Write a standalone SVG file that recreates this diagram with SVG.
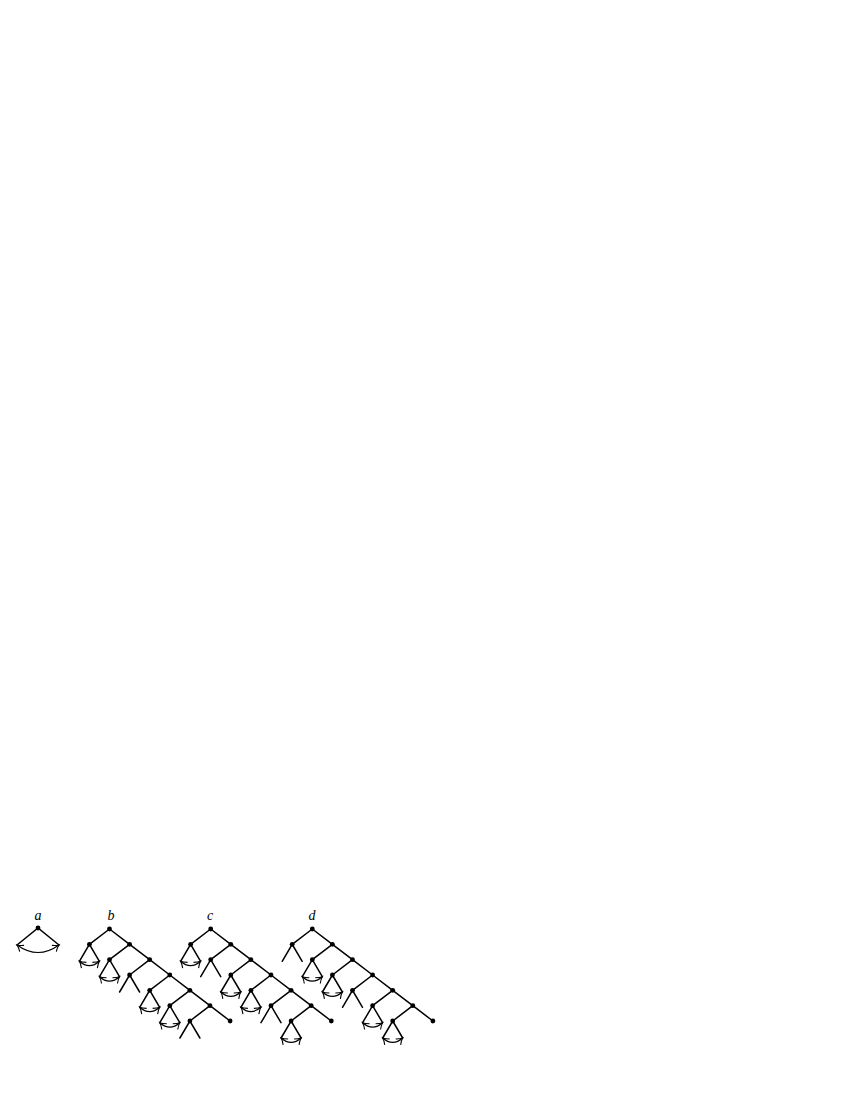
<svg xmlns="http://www.w3.org/2000/svg" width="850" height="1100" viewBox="0 0 850 1100">
<style>
.e{stroke:#000;stroke-width:1.5;fill:none;stroke-linecap:round}
.arc{stroke:#000;stroke-width:1.2;fill:none;marker-start:url(#ah);marker-end:url(#ah)}
.n{fill:#000}
.lbl{font-family:"Liberation Serif",serif;font-style:italic;font-size:14px;fill:#000;text-anchor:middle}
</style>
<defs>
<marker id="ah" markerWidth="10" markerHeight="10" refX="7.5" refY="5" orient="auto-start-reverse" markerUnits="userSpaceOnUse" viewBox="0 0 10 10">
<path d="M1.5,1.2 Q5,4.2 7.5,5 Q5,5.8 1.5,8.8" fill="none" stroke="#000" stroke-width="1.1"/>
</marker>
</defs>
<rect width="850" height="1100" fill="#fff"/>
<g id="labels">
<text class="lbl" x="38" y="920">a</text>
<text class="lbl" x="111" y="920">b</text>
<text class="lbl" x="210" y="920">c</text>
<text class="lbl" x="312" y="920">d</text>
</g>
<g id="connectors">
<path class="e" d="M17,945 L38,928 L59,945"/>
<path class="arc" d="M17,945 Q38,960 59,945"/>
<path class="e" d="M109.5,929 L129.6,944.3 L149.7,959.7 L169.8,975 L189.9,990.3 L210,1005.7 L230.1,1021"/>
<path class="e" d="M109.5,929 L89.4,944.3 M129.6,944.3 L109.5,959.7 M149.7,959.7 L129.6,975 M169.8,975 L149.7,990.3 M189.9,990.3 L169.8,1005.7 M210,1005.7 L189.9,1021"/>
<path class="e" d="M79.4,961.3 L89.4,944.3 L99.4,961.3 M99.5,976.7 L109.5,959.7 L119.5,976.7 M119.6,992 L129.6,975 L139.6,992 M139.7,1007.3 L149.7,990.3 L159.7,1007.3 M159.8,1022.7 L169.8,1005.7 L179.8,1022.7 M179.9,1038 L189.9,1021 L199.9,1038"/>
<path class="arc" d="M79.4,961.3 Q89.4,970 99.4,961.3"/>
<path class="arc" d="M99.5,976.7 Q109.5,985.4 119.5,976.7"/>
<path class="arc" d="M139.7,1007.3 Q149.7,1016 159.7,1007.3"/>
<path class="arc" d="M159.8,1022.7 Q169.8,1031.4 179.8,1022.7"/>
<path class="e" d="M210.7,929 L230.8,944.3 L250.9,959.7 L271,975 L291.1,990.3 L311.2,1005.7 L331.3,1021"/>
<path class="e" d="M210.7,929 L190.6,944.3 M230.8,944.3 L210.7,959.7 M250.9,959.7 L230.8,975 M271,975 L250.9,990.3 M291.1,990.3 L271,1005.7 M311.2,1005.7 L291.1,1021"/>
<path class="e" d="M180.6,961.3 L190.6,944.3 L200.6,961.3 M200.7,976.7 L210.7,959.7 L220.7,976.7 M220.8,992 L230.8,975 L240.8,992 M240.9,1007.3 L250.9,990.3 L260.9,1007.3 M261,1022.7 L271,1005.7 L281,1022.7 M281.1,1038 L291.1,1021 L301.1,1038"/>
<path class="arc" d="M180.6,961.3 Q190.6,970 200.6,961.3"/>
<path class="arc" d="M220.8,992 Q230.8,1000.7 240.8,992"/>
<path class="arc" d="M240.9,1007.3 Q250.9,1016 260.9,1007.3"/>
<path class="arc" d="M281.1,1038 Q291.1,1046.7 301.1,1038"/>
<path class="e" d="M312.3,929 L332.4,944.3 L352.5,959.7 L372.6,975 L392.7,990.3 L412.8,1005.7 L432.9,1021"/>
<path class="e" d="M312.3,929 L292.2,944.3 M332.4,944.3 L312.3,959.7 M352.5,959.7 L332.4,975 M372.6,975 L352.5,990.3 M392.7,990.3 L372.6,1005.7 M412.8,1005.7 L392.7,1021"/>
<path class="e" d="M282.2,961.3 L292.2,944.3 L302.2,961.3 M302.3,976.7 L312.3,959.7 L322.3,976.7 M322.4,992 L332.4,975 L342.4,992 M342.5,1007.3 L352.5,990.3 L362.5,1007.3 M362.6,1022.7 L372.6,1005.7 L382.6,1022.7 M382.7,1038 L392.7,1021 L402.7,1038"/>
<path class="arc" d="M302.3,976.7 Q312.3,985.4 322.3,976.7"/>
<path class="arc" d="M322.4,992 Q332.4,1000.7 342.4,992"/>
<path class="arc" d="M362.6,1022.7 Q372.6,1031.4 382.6,1022.7"/>
<path class="arc" d="M382.7,1038 Q392.7,1046.7 402.7,1038"/>
</g>
<g id="tree-a">
<circle id="a-root" class="n" cx="38" cy="928" r="2.4"/>
</g>
<g id="tree-b">
<circle id="b-r0" class="n" cx="109.5" cy="929" r="2.4"/>
<circle id="b-r1" class="n" cx="129.6" cy="944.3" r="2.4"/>
<circle id="b-r2" class="n" cx="149.7" cy="959.7" r="2.4"/>
<circle id="b-r3" class="n" cx="169.8" cy="975" r="2.4"/>
<circle id="b-r4" class="n" cx="189.9" cy="990.3" r="2.4"/>
<circle id="b-r5" class="n" cx="210" cy="1005.7" r="2.4"/>
<circle id="b-r6" class="n" cx="230.1" cy="1021" r="2.4"/>
<circle id="b-l0" class="n" cx="89.4" cy="944.3" r="2.4"/>
<circle id="b-l1" class="n" cx="109.5" cy="959.7" r="2.4"/>
<circle id="b-l2" class="n" cx="129.6" cy="975" r="2.4"/>
<circle id="b-l3" class="n" cx="149.7" cy="990.3" r="2.4"/>
<circle id="b-l4" class="n" cx="169.8" cy="1005.7" r="2.4"/>
<circle id="b-l5" class="n" cx="189.9" cy="1021" r="2.4"/>
</g>
<g id="tree-c">
<circle id="c-r0" class="n" cx="210.7" cy="929" r="2.4"/>
<circle id="c-r1" class="n" cx="230.8" cy="944.3" r="2.4"/>
<circle id="c-r2" class="n" cx="250.9" cy="959.7" r="2.4"/>
<circle id="c-r3" class="n" cx="271" cy="975" r="2.4"/>
<circle id="c-r4" class="n" cx="291.1" cy="990.3" r="2.4"/>
<circle id="c-r5" class="n" cx="311.2" cy="1005.7" r="2.4"/>
<circle id="c-r6" class="n" cx="331.3" cy="1021" r="2.4"/>
<circle id="c-l0" class="n" cx="190.6" cy="944.3" r="2.4"/>
<circle id="c-l1" class="n" cx="210.7" cy="959.7" r="2.4"/>
<circle id="c-l2" class="n" cx="230.8" cy="975" r="2.4"/>
<circle id="c-l3" class="n" cx="250.9" cy="990.3" r="2.4"/>
<circle id="c-l4" class="n" cx="271" cy="1005.7" r="2.4"/>
<circle id="c-l5" class="n" cx="291.1" cy="1021" r="2.4"/>
</g>
<g id="tree-d">
<circle id="d-r0" class="n" cx="312.3" cy="929" r="2.4"/>
<circle id="d-r1" class="n" cx="332.4" cy="944.3" r="2.4"/>
<circle id="d-r2" class="n" cx="352.5" cy="959.7" r="2.4"/>
<circle id="d-r3" class="n" cx="372.6" cy="975" r="2.4"/>
<circle id="d-r4" class="n" cx="392.7" cy="990.3" r="2.4"/>
<circle id="d-r5" class="n" cx="412.8" cy="1005.7" r="2.4"/>
<circle id="d-r6" class="n" cx="432.9" cy="1021" r="2.4"/>
<circle id="d-l0" class="n" cx="292.2" cy="944.3" r="2.4"/>
<circle id="d-l1" class="n" cx="312.3" cy="959.7" r="2.4"/>
<circle id="d-l2" class="n" cx="332.4" cy="975" r="2.4"/>
<circle id="d-l3" class="n" cx="352.5" cy="990.3" r="2.4"/>
<circle id="d-l4" class="n" cx="372.6" cy="1005.7" r="2.4"/>
<circle id="d-l5" class="n" cx="392.7" cy="1021" r="2.4"/>
</g>
</svg>
